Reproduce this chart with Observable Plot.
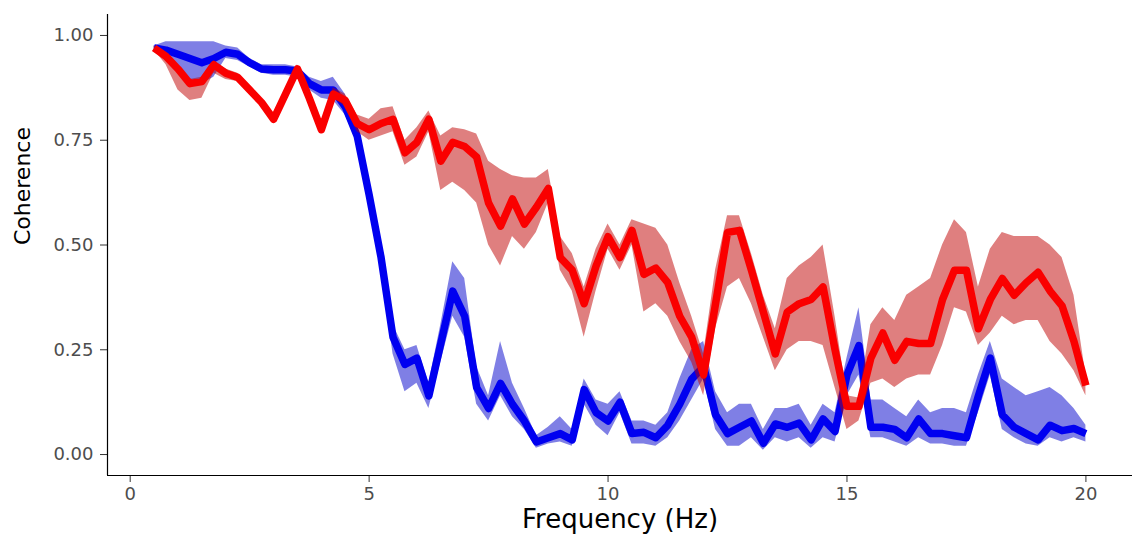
<!DOCTYPE html>
<html>
<head>
<meta charset="utf-8">
<script src="https://cdn.jsdelivr.net/npm/d3@7"></script>
<script src="https://cdn.jsdelivr.net/npm/@observablehq/plot@0.6"></script>
<style>
  html, body { margin: 0; padding: 0; background: #ffffff; }
  #chart { width: 1136px; height: 548px; }
</style>
</head>
<body>
<div id="chart"></div>
<script>
// Frequency grid (Hz)
const freq = [
  0.5, 0.75, 1.0, 1.25, 1.5, 1.75, 2.0, 2.25, 2.5, 2.75,
  3.0, 3.25, 3.5, 3.75, 4.0, 4.25, 4.5, 4.75, 5.0, 5.25,
  5.5, 5.75, 6.0, 6.25, 6.5, 6.75, 7.0, 7.25, 7.5, 7.75,
  8.0, 8.25, 8.5, 8.75, 9.0, 9.25, 9.5, 9.75, 10.0, 10.25,
  10.5, 10.75, 11.0, 11.25, 11.5, 11.75, 12.0, 12.25, 12.5, 12.75,
  13.0, 13.25, 13.5, 13.75, 14.0, 14.25, 14.5, 14.75, 15.0, 15.25,
  15.5, 15.75, 16.0, 16.25, 16.5, 16.75, 17.0, 17.25, 17.5, 17.75,
  18.0, 18.25, 18.5, 18.75, 19.0, 19.25, 19.5, 19.75, 20.0
];

// Red condition: mean coherence and its band
const redMean = [
  0.97, 0.95, 0.92, 0.885, 0.89, 0.93, 0.91, 0.90, 0.87, 0.84,
  0.80, 0.86, 0.92, 0.85, 0.775, 0.86, 0.845, 0.79, 0.775, 0.79,
  0.80, 0.72, 0.745, 0.80, 0.70, 0.745, 0.735, 0.71, 0.60, 0.545,
  0.61, 0.55, 0.59, 0.635, 0.47, 0.44, 0.36, 0.45, 0.52, 0.47,
  0.535, 0.43, 0.445, 0.41, 0.33, 0.28, 0.19, 0.36, 0.53, 0.535,
  0.44, 0.34, 0.24, 0.34, 0.36, 0.37, 0.40, 0.25, 0.115, 0.115,
  0.23, 0.29, 0.225, 0.27, 0.265, 0.265, 0.37, 0.44, 0.44, 0.30,
  0.37, 0.42, 0.38, 0.41, 0.435, 0.39, 0.355, 0.27, 0.165
];
const redUpper = [
  0.975, 0.955, 0.93, 0.895, 0.90, 0.94, 0.92, 0.91, 0.88, 0.85,
  0.81, 0.87, 0.93, 0.86, 0.785, 0.875, 0.86, 0.81, 0.80, 0.825,
  0.83, 0.75, 0.78, 0.82, 0.76, 0.78, 0.775, 0.765, 0.70, 0.68,
  0.665, 0.66, 0.66, 0.68, 0.52, 0.48, 0.40, 0.49, 0.55, 0.50,
  0.56, 0.55, 0.54, 0.50, 0.41, 0.33, 0.24, 0.44, 0.57, 0.57,
  0.48, 0.38, 0.30, 0.42, 0.45, 0.47, 0.50, 0.33, 0.14, 0.135,
  0.31, 0.35, 0.32, 0.38, 0.40, 0.42, 0.50, 0.56, 0.53, 0.40,
  0.49, 0.53, 0.52, 0.52, 0.52, 0.50, 0.47, 0.38, 0.19
];
const redLower = [
  0.965, 0.93, 0.87, 0.845, 0.85, 0.91, 0.895, 0.89, 0.86, 0.83,
  0.79, 0.85, 0.91, 0.84, 0.765, 0.85, 0.83, 0.77, 0.75, 0.76,
  0.77, 0.69, 0.71, 0.77, 0.63, 0.65, 0.63, 0.60, 0.50, 0.45,
  0.52, 0.49, 0.53, 0.60, 0.44, 0.39, 0.28, 0.39, 0.49, 0.44,
  0.50, 0.34, 0.36, 0.33, 0.27, 0.22, 0.14, 0.30, 0.40, 0.42,
  0.36, 0.28, 0.20, 0.25, 0.27, 0.27, 0.26, 0.16, 0.06, 0.08,
  0.17, 0.18, 0.16, 0.18, 0.19, 0.19, 0.26, 0.35, 0.34, 0.26,
  0.29, 0.33, 0.31, 0.32, 0.32, 0.27, 0.24, 0.20, 0.14
];

// Blue condition: mean coherence and its band
const blueMean = [
  0.97, 0.965, 0.955, 0.945, 0.935, 0.945, 0.96, 0.955, 0.935, 0.92,
  0.918, 0.918, 0.915, 0.885, 0.87, 0.87, 0.83, 0.76, 0.62, 0.47,
  0.28, 0.215, 0.23, 0.14, 0.265, 0.39, 0.33, 0.16, 0.11, 0.17,
  0.12, 0.08, 0.03, 0.04, 0.05, 0.035, 0.155, 0.10, 0.08, 0.125,
  0.05, 0.053, 0.04, 0.07, 0.12, 0.18, 0.21, 0.095, 0.05, 0.065,
  0.08, 0.027, 0.073, 0.065, 0.075, 0.035, 0.085, 0.055, 0.19, 0.26,
  0.065, 0.065, 0.06, 0.04, 0.085, 0.05, 0.05, 0.045, 0.04, 0.14,
  0.23, 0.095, 0.065, 0.05, 0.035, 0.07, 0.057, 0.062, 0.05
];
const blueUpper = [
  0.975, 0.985, 0.985, 0.985, 0.985, 0.985, 0.975, 0.97, 0.945, 0.93,
  0.93, 0.93, 0.925, 0.90, 0.89, 0.90, 0.86, 0.775, 0.635, 0.49,
  0.31, 0.25, 0.26, 0.17, 0.31, 0.46, 0.42, 0.21, 0.14, 0.27,
  0.17, 0.11, 0.045, 0.065, 0.09, 0.06, 0.18, 0.13, 0.12, 0.15,
  0.08, 0.08, 0.07, 0.10, 0.18, 0.25, 0.27, 0.15, 0.10, 0.12,
  0.12, 0.06, 0.11, 0.11, 0.12, 0.07, 0.12, 0.10, 0.23, 0.35,
  0.13, 0.13, 0.11, 0.09, 0.13, 0.10, 0.11, 0.11, 0.10, 0.19,
  0.27, 0.18, 0.16, 0.14, 0.15, 0.16, 0.14, 0.11, 0.07
];
const blueLower = [
  0.965, 0.94, 0.91, 0.89, 0.885, 0.90, 0.945, 0.94, 0.925, 0.91,
  0.905, 0.905, 0.90, 0.87, 0.85, 0.845, 0.81, 0.745, 0.605, 0.45,
  0.24, 0.15, 0.17, 0.11, 0.22, 0.33, 0.28, 0.12, 0.08, 0.14,
  0.09, 0.06, 0.015, 0.025, 0.03, 0.02, 0.12, 0.07, 0.045, 0.10,
  0.025, 0.025, 0.02, 0.04, 0.08, 0.13, 0.18, 0.06, 0.02, 0.02,
  0.04, 0.01, 0.04, 0.03, 0.04, 0.015, 0.04, 0.03, 0.14, 0.19,
  0.04, 0.04, 0.03, 0.02, 0.04, 0.025, 0.025, 0.02, 0.02, 0.10,
  0.19, 0.06, 0.04, 0.025, 0.02, 0.04, 0.03, 0.04, 0.03
];

// Axis ticks and titles
const xTicks = [0, 5, 10, 15, 20];
const yTicks = [0, 0.25, 0.5, 0.75, 1];
const xTitle = "Frequency (Hz)";
const yTitle = "Coherence";

// Scale domains padded like a ggplot panel
const xDomain = [-0.475, 20.975];
const yDomain = [-0.05, 1.05];

const rows = freq.map((f, i) => ({
  f,
  r: redMean[i], rHi: redUpper[i], rLo: redLower[i],
  b: blueMean[i], bHi: blueUpper[i], bLo: blueLower[i]
}));

const tickColor = "#4d4d4d";
const fmtY = d3.format(".2f");

const chart = Plot.plot({
  width: 1136,
  height: 548,
  marginLeft: 107,
  marginRight: 4,
  marginTop: 14,
  marginBottom: 73,
  style: { fontFamily: "'DejaVu Sans', 'Liberation Sans', sans-serif", background: "#ffffff" },
  x: { domain: xDomain },
  y: { domain: yDomain },
  marks: [
    // blue band and mean
    Plot.areaY(rows, { x: "f", y1: "bLo", y2: "bHi", fill: "#0000cc", fillOpacity: 0.5 }),
    Plot.lineY(rows, { x: "f", y: "b", stroke: "#0000f0", strokeWidth: 7.5, strokeLinejoin: "round", strokeLinecap: "butt" }),
    // red band and mean
    Plot.areaY(rows, { x: "f", y1: "rLo", y2: "rHi", fill: "#c00000", fillOpacity: 0.5 }),
    Plot.lineY(rows, { x: "f", y: "r", stroke: "#fa0000", strokeWidth: 7.5, strokeLinejoin: "round", strokeLinecap: "butt" }),
    // tick marks
    Plot.axisX(xTicks, { tickSize: 7, tickFormat: () => "", stroke: "#333333", label: null }),
    Plot.axisY(yTicks, { tickSize: 7, tickFormat: () => "", stroke: "#333333", label: null }),
    // tick labels
    Plot.text(xTicks, { x: d => d, frameAnchor: "bottom", dy: 24, fontSize: 18, fill: tickColor }),
    Plot.text(yTicks, { y: d => d, text: d => fmtY(d), frameAnchor: "left", dx: -14, textAnchor: "end", fontSize: 18, fill: tickColor }),
    // axis lines
    Plot.ruleX([xDomain[0]], { stroke: "#000000", strokeWidth: 1.2 }),
    Plot.ruleY([yDomain[0]], { stroke: "#000000", strokeWidth: 1.2 }),
    // axis titles
    Plot.text([xTitle], { frameAnchor: "bottom", dy: 52, fontSize: 26, fill: "#000000" }),
    Plot.text([yTitle], { frameAnchor: "left", dx: -85, rotate: -90, fontSize: 22, fill: "#000000" })
  ]
});

document.getElementById("chart").appendChild(chart);
</script>
</body>
</html>
